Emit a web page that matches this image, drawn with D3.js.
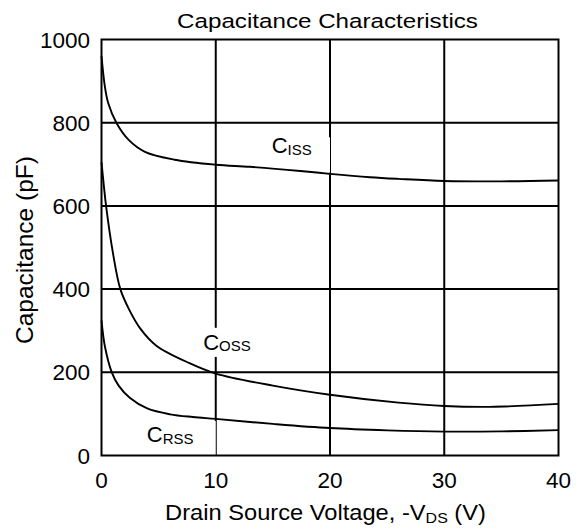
<!DOCTYPE html>
<html>
<head>
<meta charset="utf-8">
<script src="https://cdn.jsdelivr.net/npm/d3@7"></script>
<style>
  html, body { margin: 0; padding: 0; background: #fff; }
  svg { display: block; font-family: "Liberation Sans", Arial, Helvetica, sans-serif; }
</style>
</head>
<body>
<svg id="chart" width="580" height="532"></svg>
<script>
// ---- data ----
const title = "Capacitance Characteristics";
const xTicks = [0, 10, 20, 30, 40];
const yTicks = [0, 200, 400, 600, 800, 1000];

const cissV = [0, 0.3, 0.6, 1.3, 2.4, 3.8, 6.4, 10, 13, 17.4, 20, 23.5, 26, 30, 35, 40];
const cissC = [960, 886, 846, 800, 758, 730, 711, 699, 694, 684, 677, 669, 665, 660, 659, 661];

const cossV = [0, 0.2, 0.4, 1, 1.65, 2.4, 3.4, 4.8, 7.7, 10, 15, 20, 26, 30, 34, 40];
const cossC = [705, 650, 600, 487, 400, 352, 305, 264, 222, 197, 168, 146, 127, 119, 117, 124];

const crssV = [0, 0.3, 0.9, 1.5, 2.5, 4, 6, 8, 10, 15, 20, 25, 30, 35, 40];
const crssC = [325, 262, 200, 168, 138, 113, 99, 92.5, 88, 76, 66, 60.5, 57.5, 58, 61];

const seriesNames = ["ISS", "OSS", "RSS"];
// label anchors in data space (V, pF)
const labelV = [14.9, 8.9, 3.96];
const labelC = [726, 254, 32];
// white boxes behind labels in data space [v0, v1, c0, c1]
const boxV0 = [14.6, 8.7, 3.6];
const boxV1 = [20, 12.9, 10];
const boxC0 = [680, 237, 0];
const boxC1 = [765, 307, 83];

// ---- layout ----
const svg = d3.select("#chart");
const x = d3.scaleLinear().domain([0, 40]).range([101.5, 558.5]);
const y = d3.scaleLinear().domain([0, 1000]).range([455.5, 39.5]);

// grid
const g = svg.append("g");
g.selectAll("line.vx").data(xTicks.slice(1, -1)).join("line")
  .attr("x1", d => x(d)).attr("x2", d => x(d))
  .attr("y1", y(1000)).attr("y2", y(0))
  .attr("stroke", "#000").attr("stroke-width", 2);
g.selectAll("line.hy").data(yTicks.slice(1, -1)).join("line")
  .attr("x1", x(0)).attr("x2", x(40))
  .attr("y1", d => y(d)).attr("y2", d => y(d))
  .attr("stroke", "#000").attr("stroke-width", 2);

// label boxes
svg.append("g").selectAll("rect").data(seriesNames).join("rect")
  .attr("x", (d, i) => x(boxV0[i]))
  .attr("width", (d, i) => x(boxV1[i]) - x(boxV0[i]))
  .attr("y", (d, i) => y(boxC1[i]))
  .attr("height", (d, i) => y(boxC0[i]) - y(boxC1[i]))
  .attr("fill", "#fff");

// curves
const line = d3.line().x(d => x(d[0])).y(d => y(d[1])).curve(d3.curveCatmullRom.alpha(0.5));
const series = [
  d3.zip(cissV, cissC),
  d3.zip(cossV, cossC),
  d3.zip(crssV, crssC)
];
svg.append("g").selectAll("path").data(series).join("path")
  .attr("d", line)
  .attr("fill", "none")
  .attr("stroke", "#000")
  .attr("stroke-width", 1.9);

// frame
svg.append("rect")
  .attr("x", x(0)).attr("y", y(1000))
  .attr("width", x(40) - x(0)).attr("height", y(0) - y(1000))
  .attr("fill", "none").attr("stroke", "#000").attr("stroke-width", 2);

// y tick labels
svg.append("g").selectAll("text").data(yTicks).join("text")
  .attr("x", 90).attr("y", d => y(d))
  .attr("dy", "0.36em")
  .attr("text-anchor", "end")
  .attr("font-size", 22.5)
  .text(d => d);

// x tick labels
svg.append("g").selectAll("text").data(xTicks).join("text")
  .attr("x", d => x(d)).attr("y", 488)
  .attr("text-anchor", "middle")
  .attr("font-size", 22.5)
  .text(d => d);

// helper: stretch a text horizontally to reach a target width
function fitWidth(sel, cx, cy, target, rot) {
  const w = sel.node().getBBox().width;
  const s = target / w;
  sel.attr("transform", `translate(${cx},${cy})` + (rot ? ` rotate(${rot})` : "") + ` scale(${s},1)`);
}

// title
const tt = svg.append("text")
  .attr("text-anchor", "middle")
  .attr("font-size", 20.5)
  .text(title);
fitWidth(tt, 327.5, 28, 301);

// x axis title
const xt = svg.append("text")
  .attr("text-anchor", "middle")
  .attr("font-size", 21.5);
xt.append("tspan").text("Drain Source Voltage, -V");
xt.append("tspan").attr("font-size", 14.5).attr("dy", 3).text("DS");
xt.append("tspan").attr("dy", -3).text(" (V)");
fitWidth(xt, 325.5, 520, 321);

// y axis title
svg.append("text")
  .attr("transform", "translate(33,250) rotate(-90)")
  .attr("text-anchor", "middle")
  .attr("font-size", 24.5)
  .text("Capacitance (pF)");

// curve labels
const lab = svg.append("g").selectAll("text").data(seriesNames).join("text")
  .attr("x", (d, i) => x(labelV[i]))
  .attr("y", (d, i) => y(labelC[i]))
  .attr("font-size", 22);
lab.append("tspan").text("C");
lab.append("tspan").attr("font-size", 15).attr("dy", 1.5).text(d => d);
</script>
</body>
</html>
